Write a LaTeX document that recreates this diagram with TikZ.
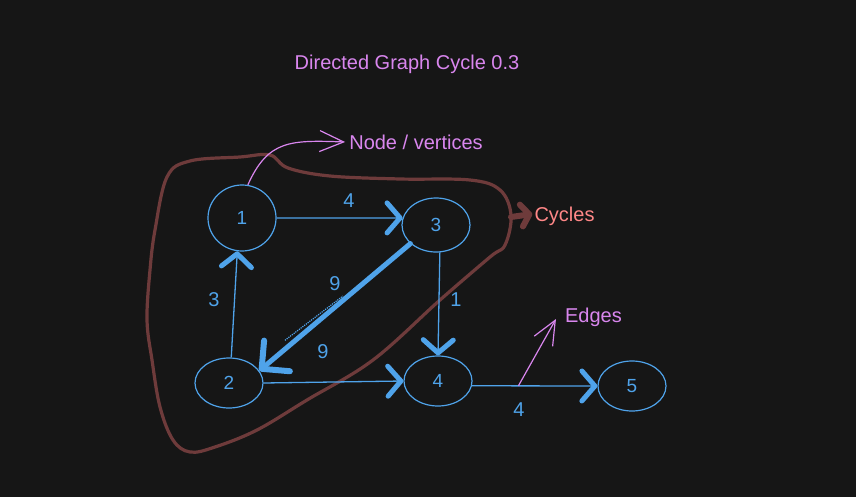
\documentclass[tikz,border=0pt]{standalone}
\usepackage{fontspec}
\setmainfont{Liberation Sans}
\usetikzlibrary{arrows.meta,shapes.geometric,calc}
\definecolor{darkbg}{HTML}{161616}
\definecolor{edgeblue}{HTML}{4FA3EA}
\definecolor{cyclebrown}{HTML}{6E3B3B}
\definecolor{cyclered}{HTML}{FF8787}
\definecolor{notepink}{HTML}{D986EE}

\begin{document}
\begin{tikzpicture}[
  x=1pt, y=-1pt,
  vertex/.style={ellipse, draw=edgeblue, line width=1.2pt, minimum width=68pt,
                 minimum height=50pt, inner sep=0pt, text=edgeblue,
                 font=\fontsize{19}{19}\selectfont},
  lbl/.style={font=\fontsize{20}{20}\selectfont, inner sep=0pt,
              text height=14.3pt, text depth=0pt},
  wt/.style={lbl, text=edgeblue},
  edge/.style={draw=edgeblue, line width=1.3pt,
               -{Straight Barb[length=13pt,width=30pt,line width=5pt,round]}},
  bigedge/.style={draw=edgeblue, line width=5pt, line cap=round,
                  -{Straight Barb[length=20pt,width=40pt,line width=6pt,round]}},
  note/.style={draw=notepink, line width=1.2pt,
               -{Straight Barb[length=24pt,width=21pt,line width=1.2pt]}},
  cyc/.style={draw=cyclebrown, line width=3.2pt, line cap=round, line join=round}
]
  \fill[darkbg] (0,0) rectangle (856,497);
  \useasboundingbox (0,0) rectangle (856,497);

  % Title
  \node[lbl, text=notepink] (title) at (407,62) {Directed Graph Cycle 0.3};

  % Cycle outline
  \draw[cyc] plot[smooth cycle, tension=0.6] coordinates {
    (270,155) (288,168) (330,176) (400,179) (470,180) (500,190) (511,215)
    (505,245) (490,257) (440,300) (373,360) (307,400) (257,430) (215,447)
    (190,452) (173,440) (160,407) (152,360) (147,320) (150,270) (155,230)
    (167,177) (190,161) (240,157)};

  % Vertices
  \node[vertex, minimum height=66pt] (n1) at (242,218) {1};
  \node[vertex, minimum height=54pt] (n3) at (436,225) {3};
  \node[vertex] (n2) at (229,383) {2};
  \node[vertex] (n4) at (438,381) {4};
  \node[vertex] (n5) at (632,386) {5};

  % Edges
  \draw[edge] (n1.east) -- (n3.168);
  \draw[edge] (n2.85) -- (n1.262);
  \draw[bigedge] (n3.216) -- (n2.22);
  \draw[edgeblue, line width=1.2pt, densely dotted] ($(n2)!0.27!(n3)$) -- ($(n2)!0.55!(n3)$);
  \draw[edge] (n3.-82) -- (n4.north);
  \draw[edge] (n2.east) -- (n4.west);
  \draw[edge] (n4.-8) -- coordinate[pos=0.37] (e45) (n5.west);

  % Weights
  \node[wt] (w13) at (349,200) {4};
  \node[wt] (w21) at (214,299) {3};
  \node[wt] (w32a) at (335,283) {9};
  \node[wt] (w32b) at (323,351) {9};
  \node[wt] (w34) at (456,299) {1};
  \node[wt] (w45) at (519,409) {4};

  % Notes
  \node[lbl, text=notepink] (lblN) at (416,142) {Node / vertices};
  \node[lbl, text=cyclered] (lblC) at (564.5,214) {Cycles};
  \node[lbl, text=notepink] (lblE) at (593.5,315) {Edges};

  \coordinate (cycR) at (511,217);
  \draw[cyc, line width=6pt,
        -{Straight Barb[length=8pt,width=22pt,line width=6pt,round]}]
    (cycR) -- ([xshift=-2pt]lblC.west);
  \draw[note] (n1.80) .. controls (268,140) and (290,140) .. ([xshift=-4pt]lblN.west);
  \draw[note] (e45) -- ($(lblE.west)+(-9,4)$);
\end{tikzpicture}
\end{document}
